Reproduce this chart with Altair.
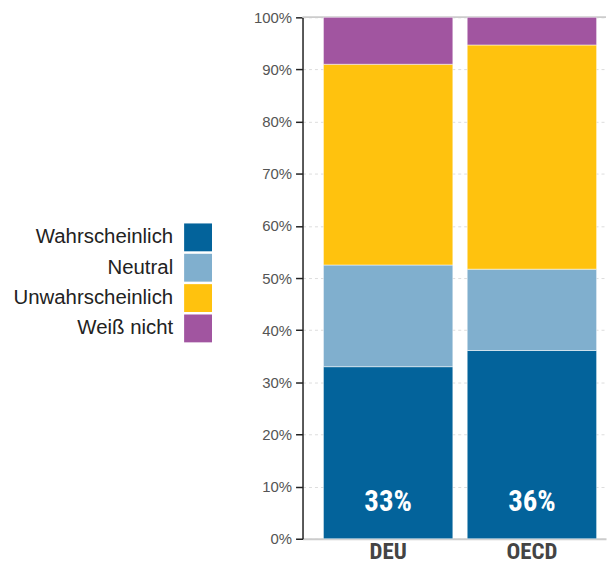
import altair as alt
import pandas as pd

countries = ["DEU", "OECD"]
categories = ["Wahrscheinlich", "Neutral", "Unwahrscheinlich", "Weiß nicht"]
colors = ["#03639b", "#80afce", "#ffc20e", "#a155a0"]
deu_values = [33.0, 19.5, 38.5, 9.0]
oecd_values = [36.1, 15.6, 43.0, 5.3]
bar_labels = ["33%", "36%"]

rows = []
for c, vals in zip(countries, [deu_values, oecd_values]):
    for i, (cat, v) in enumerate(zip(categories, vals)):
        rows.append({"country": c, "category": cat, "value": v, "order": i})
df = pd.DataFrame(rows)
lab_df = pd.DataFrame({"country": countries, "label": bar_labels})
leg_df = pd.DataFrame({"category": categories, "idx": list(range(len(categories)))})

color_scale = alt.Scale(domain=categories, range=colors)
xscale = alt.Scale(domain=countries, paddingInner=0.1, paddingOuter=0.1054, align=0.69)
yscale = alt.Scale(domain=[0, 100])
narrow = "Liberation Sans Narrow, Roboto Condensed, Liberation Sans"

bars = alt.Chart(df).mark_bar(stroke="white", strokeWidth=0.5).encode(
    x=alt.X("country:N", scale=xscale, sort=countries, title=None,
            axis=alt.Axis(labelAngle=0, labelFontWeight="bold", labelFontSize=23,
                          labelFont=narrow,
                          labelColor="#444", ticks=False, domainColor="#cccccc",
                          domainWidth=2, labelPadding=2, grid=False)),
    y=alt.Y("value:Q", stack="zero", scale=yscale, title=None,
            axis=alt.Axis(values=list(range(0, 101, 10)), labelExpr="datum.value + '%'",
                          labelFontSize=15, labelFont="Liberation Sans", labelColor="#555",
                          tickSize=7, tickColor="#222", tickWidth=1.5,
                          domainColor="#222", domainWidth=1.5,
                          grid=True, gridColor="#dddddd", gridDash=[3, 3], gridWidth=1,
                          labelPadding=4)),
    color=alt.Color("category:N", scale=color_scale, legend=None),
    order=alt.Order("order:Q", sort="ascending"),
)

top_rule = alt.Chart(lab_df).mark_rule(color="#cccccc", strokeWidth=1.5).encode(
    y=alt.datum(100)
)

texts = alt.Chart(lab_df).mark_text(
    color="white", fontWeight="bold", fontSize=29, font=narrow, baseline="middle"
).encode(
    x=alt.X("country:N", scale=xscale, sort=countries),
    y=alt.datum(7),
    text="label:N",
)

main = alt.layer(top_rule, bars, texts).properties(width=305, height=524)

leg_y = alt.Y("idx:Q", axis=None, scale=alt.Scale(domain=[-7.25, 9.93], reverse=True, nice=False, zero=False))
leg_text = alt.Chart(leg_df).mark_text(
    align="right", baseline="middle", fontSize=20.5, font="Liberation Sans", color="#222"
).encode(x=alt.value(159), y=leg_y, text="category:N")
leg_sq = alt.Chart(leg_df).mark_square(size=784, opacity=1).encode(
    x=alt.value(184), y=leg_y,
    color=alt.Color("category:N", scale=color_scale, legend=None),
)
legend = alt.layer(leg_text, leg_sq).properties(width=289, height=524)

chart = alt.hconcat(legend, main, spacing=0, bounds="flush").properties(
    padding={"top": 1, "left": 5, "right": 0, "bottom": 0}
).configure_view(stroke=None)

chart.save("out.html", embed_options={"renderer": "svg", "actions": False})
